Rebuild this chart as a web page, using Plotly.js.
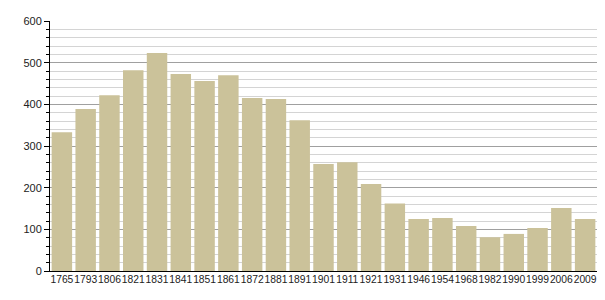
<!DOCTYPE html>
<html>
<head>
<meta charset="utf-8">
<script src="https://cdn.plot.ly/plotly-3.0.1.min.js"></script>
<style>html,body{margin:0;padding:0;background:#fff;}#chart{width:605px;height:300px;}</style>
</head>
<body>
<div id="chart"></div>
<script>
const years = ["1765","1793","1806","1821","1831","1841","1851","1861","1872","1881","1891","1901","1911","1921","1931","1946","1954","1968","1982","1990","1999","2006","2009"];
const population = [333,389,422,482,523,473,456,470,415,413,362,257,261,209,162,125,127,108,81,89,103,151,125];
const yTickValues = [0,100,200,300,400,500,600];

Plotly.newPlot('chart', [{
  type: 'bar',
  x: years,
  y: population,
  marker: {color: '#cbc29a', line: {width: 0}},
  hoverinfo: 'x+y'
}], {
  width: 605,
  height: 300,
  margin: {l: 50, r: 8, t: 21, b: 29, pad: 0},
  paper_bgcolor: '#ffffff',
  plot_bgcolor: '#ffffff',
  bargap: 0.14,
  font: {family: 'Liberation Sans, Arial, sans-serif', size: 11, color: '#222'},
  xaxis: {
    type: 'category',
    tickangle: 0,
    showgrid: false,
    showline: true,
    linecolor: '#000',
    linewidth: 1,
    ticks: '',
    ticklabelstandoff: -1,
    tickfont: {size: 10.3, color: '#222'},
    automargin: false,
    fixedrange: true
  },
  yaxis: {
    range: [0, 600],
    tickvals: yTickValues,
    ticktext: yTickValues.map(String),
    showgrid: true,
    gridcolor: '#a0a0a0',
    gridwidth: 1,
    showline: true,
    linecolor: '#000',
    linewidth: 1,
    ticks: 'outside',
    ticklen: 5,
    tickcolor: '#000',
    tickfont: {size: 11, color: '#222'},
    zeroline: false,
    automargin: false,
    fixedrange: true,
    minor: {dtick: 20, showgrid: true, gridcolor: '#d4d4d4', gridwidth: 1, ticks: 'outside', ticklen: 3, tickcolor: '#000'}
  },
  showlegend: false
}, {displayModeBar: false, staticPlot: true});
</script>
</body>
</html>
